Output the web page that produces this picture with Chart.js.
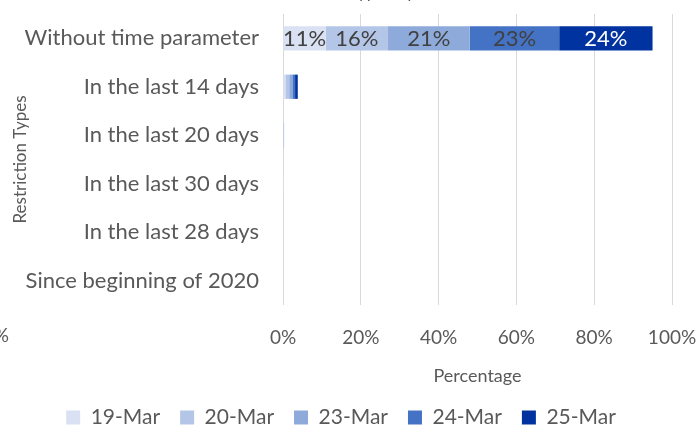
<!DOCTYPE html>
<html>
<head>
<meta charset="utf-8">
<script src="https://cdn.jsdelivr.net/npm/chart.js@4.4.1/dist/chart.umd.min.js"></script>
<style>
  html, body { margin: 0; padding: 0; background: #fff; }
  #wrap { width: 699px; height: 433px; position: relative; }
</style>
</head>
<body>
<div id="wrap"><canvas id="grafico"></canvas></div>
<script>
const categorias = ["Without time parameter", "In the last 14 days", "In the last 20 days",
  "In the last 30 days", "In the last 28 days", "Since beginning of 2020"];
const fechas = ["19-Mar", "20-Mar", "23-Mar", "24-Mar", "25-Mar"];
const colores = ["#d9e1f2", "#b4c6e7", "#8eaadb", "#4472c4", "#0033a0"];
// percentage per restriction type, one array per date
const mar19 = [11, 0.6, 0.1, 0.05, 0, 0];
const mar20 = [16, 1.0, 0.2, 0, 0, 0];
const mar23 = [21, 0.8, 0, 0, 0, 0];
const mar24 = [23, 0.7, 0, 0, 0, 0];
const mar25 = [24, 0.7, 0, 0, 0, 0];
const ticksX = [0, 20, 40, 60, 80, 100];

const series = [mar19, mar20, mar23, mar24, mar25];
const gris = "#595959";
const fuente = "Lato";

// etiquetas dentro de las barras (solo las que caben)
const etiquetas = {
  id: "etiquetas",
  afterDatasetsDraw(chart) {
    const ctx = chart.ctx;
    ctx.save();
    ctx.font = "22px " + fuente;
    ctx.textAlign = "center";
    ctx.textBaseline = "middle";
    chart.data.datasets.forEach((ds, i) => {
      const meta = chart.getDatasetMeta(i);
      meta.data.forEach((bar, j) => {
        const v = ds.data[j];
        if (v < 5) return;
        ctx.fillStyle = i === 4 ? "#ffffff" : "#404040";
        ctx.fillText(Math.round(v) + "%", (bar.base + bar.x) / 2, bar.y + 1);
      });
    });
    // restos de texto cortados en los bordes
    ctx.fillStyle = gris;
    ctx.font = "19px " + fuente;
    ctx.textAlign = "right";
    ctx.fillText("0%", 9, 336);
    ctx.textAlign = "center";
    ctx.textBaseline = "alphabetic";
    ctx.font = "17px " + fuente;
    ctx.fillText("Restriction Types by Date", 360, -2);
    ctx.restore();
  }
};

new Chart(document.getElementById("grafico"), {
  type: "bar",
  data: {
    labels: categorias,
    datasets: series.map((d, i) => ({
      label: fechas[i],
      data: d,
      backgroundColor: colores[i],
      barPercentage: 0.5,
      categoryPercentage: 1
    }))
  },
  options: {
    indexAxis: "y",
    responsive: true,
    maintainAspectRatio: false,
    animation: false,
    layout: { padding: { top: 14, right: 27, left: 10, bottom: -5 } },
    plugins: {
      legend: {
        position: "bottom",
        labels: {
          boxWidth: 14, boxHeight: 14, padding: 20,
          color: gris, font: { family: fuente, size: 21 }
        }
      },
      tooltip: { enabled: false }
    },
    scales: {
      x: {
        stacked: true, min: 0, max: 100,
        afterBuildTicks: s => { s.ticks = ticksX.map(v => ({ value: v })); },
        afterFit: s => { s.height = 82; s.paddingLeft = 0; s.paddingRight = 0; },
        ticks: { callback: v => v + "%", color: gris, font: { family: fuente, size: 19 }, padding: 21, maxRotation: 0 },
        grid: { color: "#d9d9d9", drawTicks: false },
        border: { display: false },
        title: { display: true, text: "Percentage", color: gris, font: { family: fuente, size: 18 }, padding: 0 }
      },
      y: {
        stacked: true,
        afterFit: s => { s.width = 273; s.paddingTop = 0; s.paddingBottom = 0; },
        ticks: { color: gris, font: { family: fuente, size: 22 }, padding: 16 },
        grid: { display: false },
        border: { display: false },
        title: { display: true, text: "Restriction Types", color: gris, font: { family: fuente, size: 17 }, padding: { top: 0 } }
      }
    }
  },
  plugins: [etiquetas]
});
</script>
</body>
</html>
